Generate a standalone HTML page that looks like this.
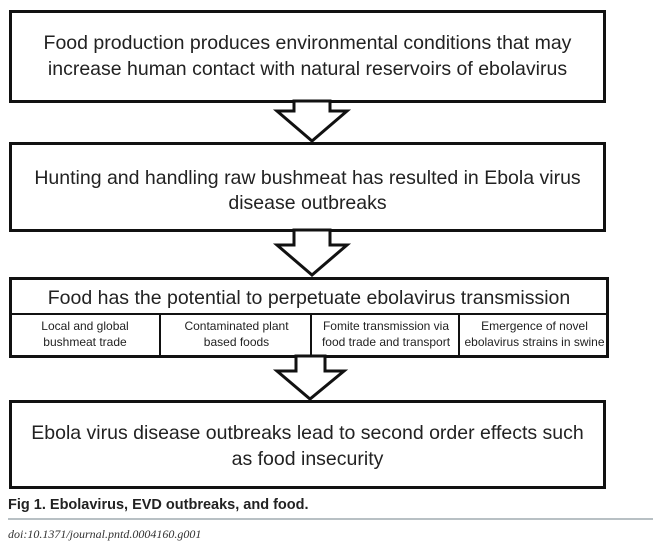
<html><head><style>
body{margin:0;width:659px;height:551px;background:#fff;position:relative;font-family:"Liberation Sans",sans-serif;overflow:hidden}
.b{position:absolute;border:3px solid #111;box-sizing:border-box;display:flex;align-items:center;justify-content:center;text-align:center;font-size:19.5px;color:#222;line-height:1.3}
.c{position:absolute;top:314px;height:42px;display:flex;align-items:center;justify-content:center;text-align:center;font-size:12px;color:#222;line-height:1.3;border-left:2px solid #111;white-space:nowrap}
</style></head><body>
<div class="b" style="left:9px;top:10px;width:597px;height:93px">Food production produces environmental conditions that may<br>increase human contact with natural reservoirs of ebolavirus</div>
<div class="b" style="left:9px;top:142px;width:597px;height:90px;padding-top:8px">Hunting and handling raw bushmeat has resulted in Ebola virus<br>disease outbreaks</div>
<div class="b" style="left:9px;top:277px;width:600px;height:81px;align-items:flex-start;padding-top:6px;font-size:19.5px">Food has the potential to perpetuate ebolavirus transmission</div>
<div style="position:absolute;left:11px;top:313px;width:596px;height:2px;background:#111"></div>
<div class="c" style="left:10px;width:150px;border-left:none">Local and global<br>bushmeat trade</div>
<div class="c" style="left:159px;width:151px">Contaminated plant<br>based foods</div>
<div class="c" style="left:310px;width:148px">Fomite transmission via<br>food trade and transport</div>
<div class="c" style="left:458px;width:149px">Emergence of novel<br>ebolavirus strains in swine</div>
<div class="b" style="left:9px;top:400px;width:597px;height:89px;padding-top:4px">Ebola virus disease outbreaks lead to second order effects such<br>as food insecurity</div>
<svg width="659" height="551" style="position:absolute;left:0;top:0" fill="#fff" stroke="#111" stroke-width="3">
<polygon points="294,101 330,101 330,111 347,111 312,141 277,111 294,111"/>
<polygon points="294,230 330,230 330,245 347,245 312,275 277,245 294,245"/>
<polygon points="296,356 325,356 325,371 344,371 310,399 277,371 296,371"/>
</svg>
<div style="position:absolute;left:8px;top:497px;font-size:14.5px;font-weight:bold;color:#222">Fig 1. Ebolavirus, EVD outbreaks, and food.</div>
<div style="position:absolute;left:8px;top:518px;width:645px;height:2px;background:#b8c0c4"></div>
<div style="position:absolute;left:8px;top:527px;font-size:12px;font-style:italic;font-family:'Liberation Serif',serif;color:#333">doi:10.1371/journal.pntd.0004160.g001</div>
</body></html>
